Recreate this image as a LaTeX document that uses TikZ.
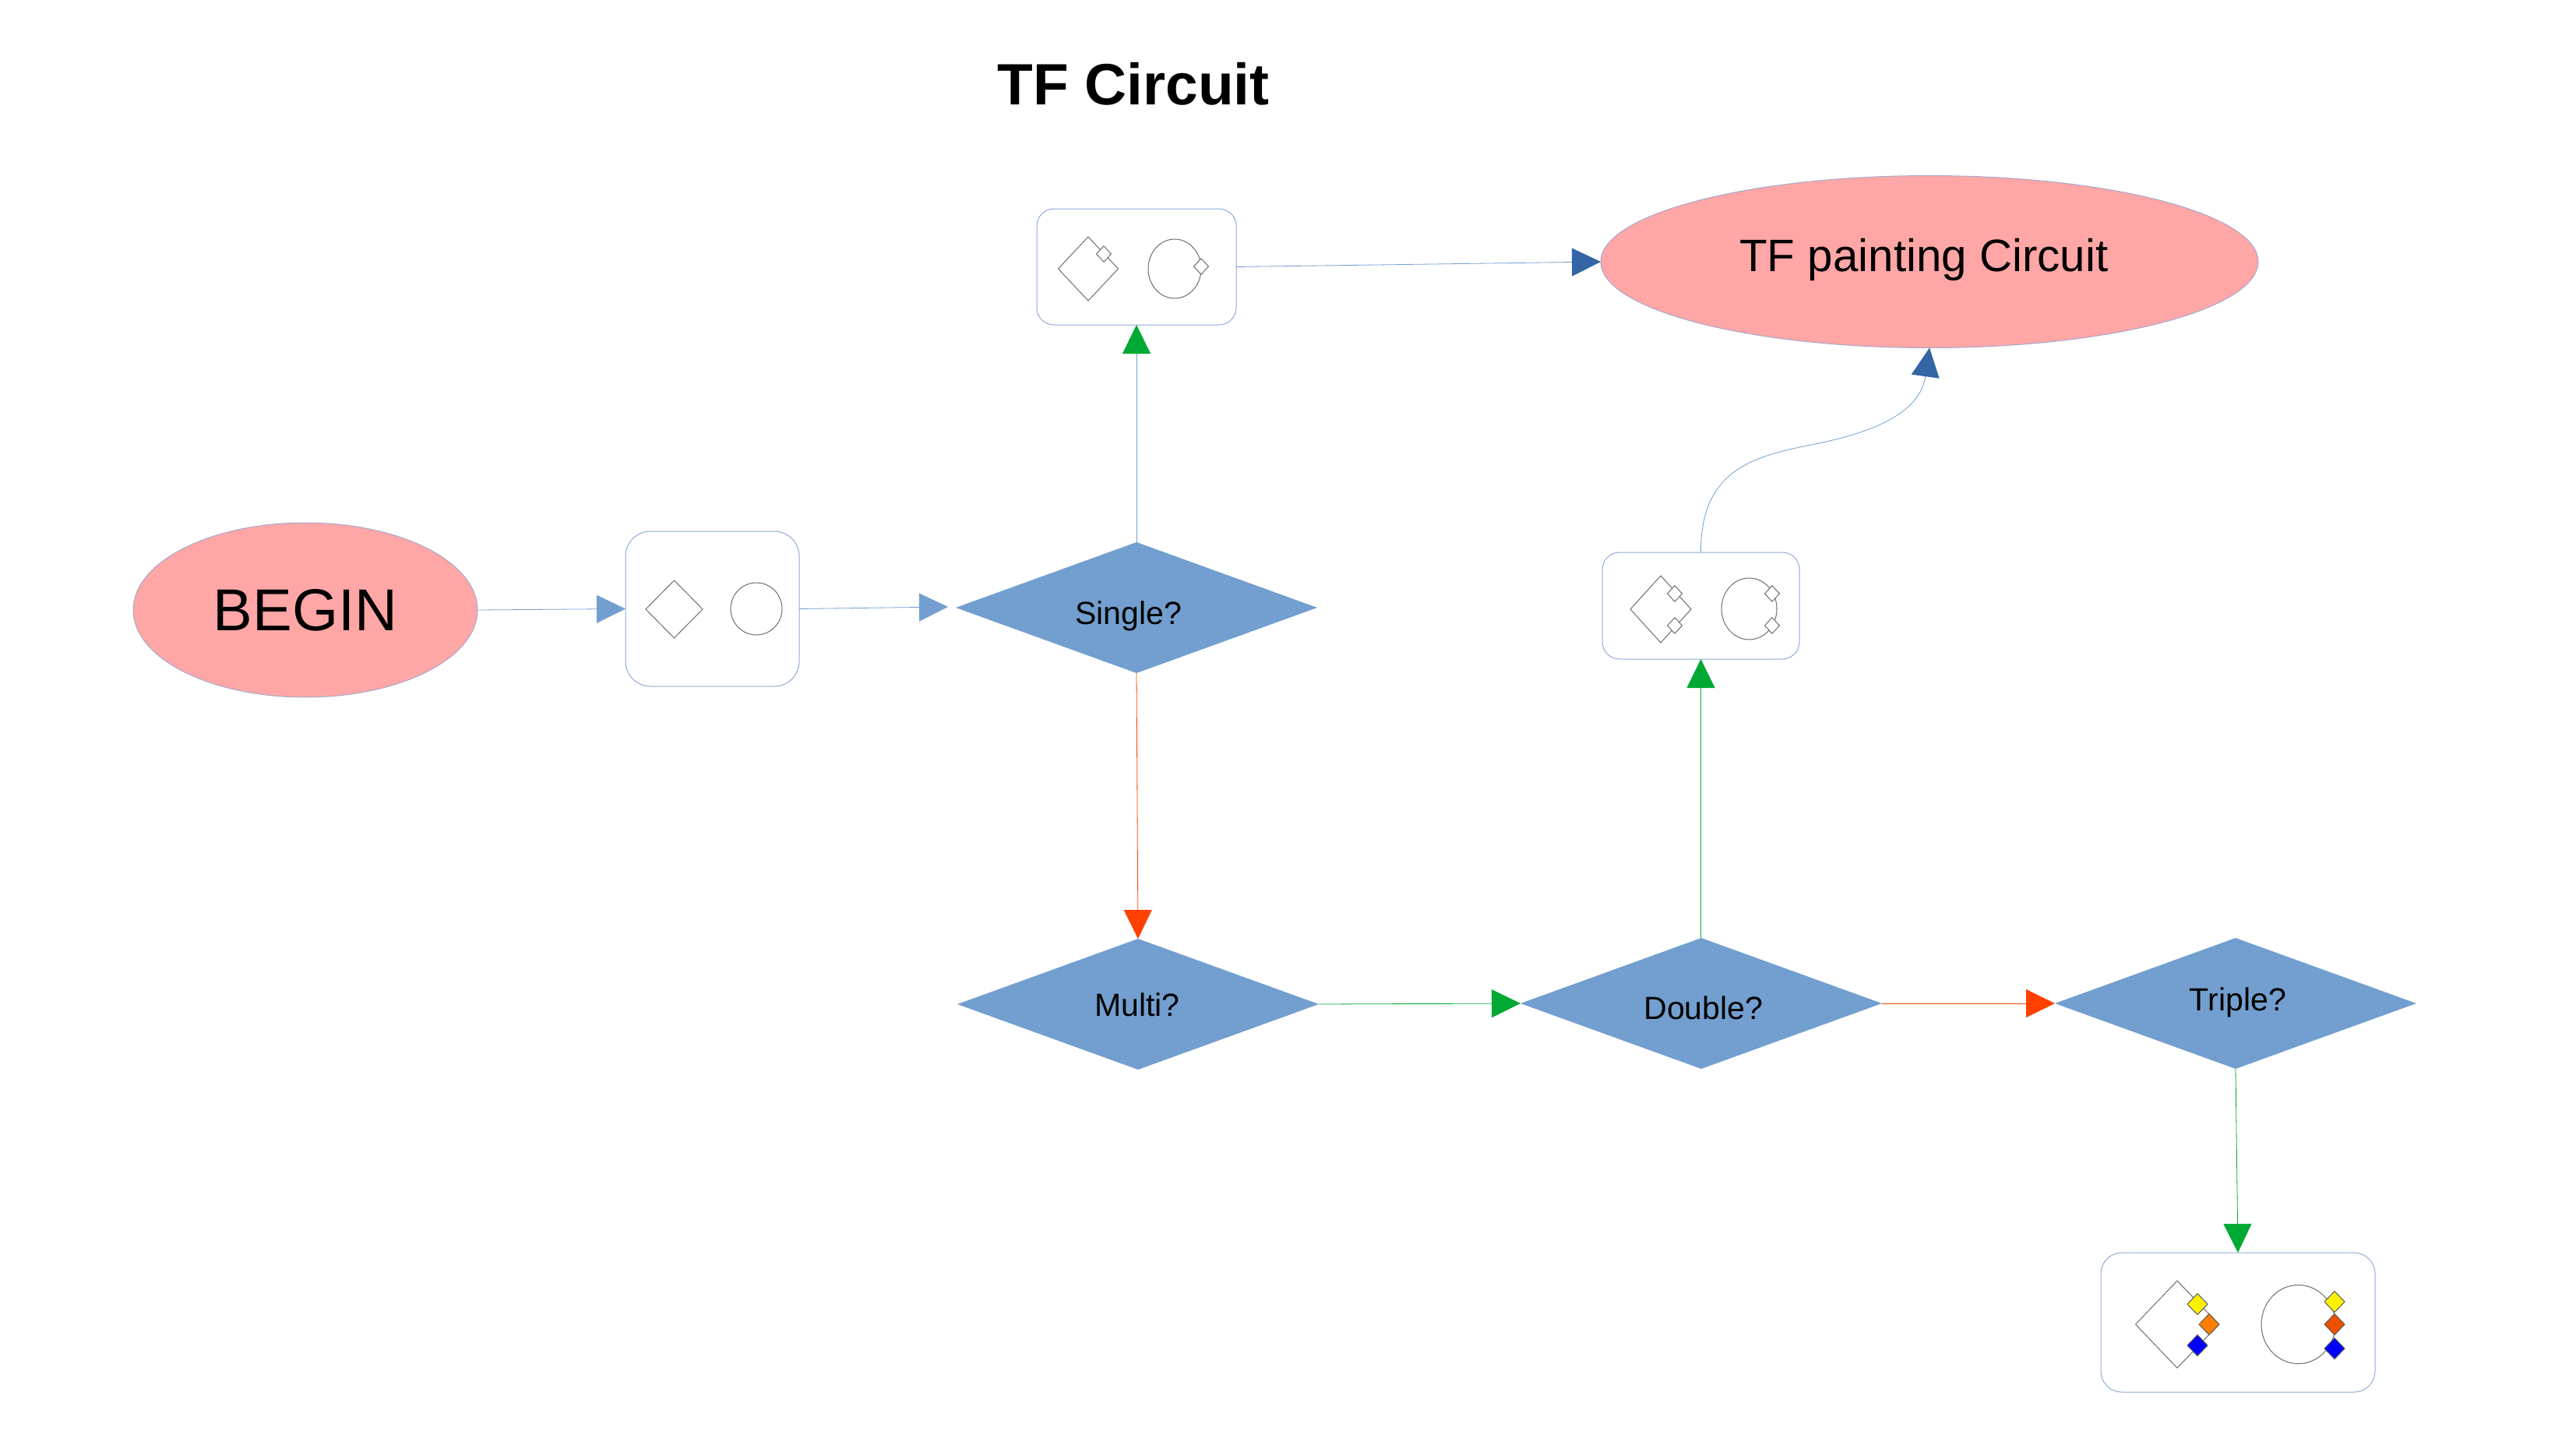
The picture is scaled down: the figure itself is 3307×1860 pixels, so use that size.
\documentclass[tikz,border=0pt]{standalone}
\usepackage{fontspec}
\setmainfont{Liberation Sans}
\usetikzlibrary{shapes.geometric,arrows.meta}

\definecolor{lightblue}{HTML}{729FCF}
\definecolor{darkblue}{HTML}{3465A4}
\definecolor{boxblue}{HTML}{8FAAD6}
\definecolor{flowgreen}{HTML}{00A933}
\definecolor{floworange}{HTML}{FF4000}
\definecolor{salmon}{HTML}{FFA6A6}
\definecolor{icongrey}{HTML}{6E6E6E}
\definecolor{portorange}{HTML}{FF8000}
\definecolor{portred}{HTML}{EE5000}

\tikzset{
    terminal/.style={ellipse, draw=boxblue!80!salmon, fill=salmon, line width=0.1mm, inner sep=0, outer sep=0},
    decision/.style={diamond, fill=lightblue, minimum width=46.4mm, minimum height=16.8mm, inner sep=0, outer sep=0},
    gatebox/.style={rectangle, draw=boxblue, fill=white, line width=0.1mm, rounded corners=2.2mm, inner sep=0, outer sep=0},
    icondia/.style={diamond, draw=icongrey, line width=0.1mm, inner sep=0, outer sep=0},
    iconcirc/.style={ellipse, draw=icongrey, line width=0.1mm, inner sep=0, outer sep=0},
    port/.style={diamond, draw=icongrey, fill=white, line width=0.1mm, minimum width=1.9mm, minimum height=2.05mm, inner sep=0, outer sep=0},
    cport/.style={diamond, draw=black!65, fill=#1, line width=0.1mm, minimum width=2.6mm, minimum height=2.7mm, inner sep=0, outer sep=0},
    flow/.style={line width=0.08mm, draw=#1, -{Triangle[length=3.7mm, width=3.6mm, color=#1]}},
    yes/.style={line width=0.08mm, draw=#1, -{Triangle[length=3.7mm, width=3.6mm, color=flowgreen]}},
    done/.style={line width=0.08mm, draw=lightblue, -{Triangle[length=3.7mm, width=3.6mm, color=darkblue]}},
}

\begin{document}
\begin{tikzpicture}[x=0.1mm, y=-0.1mm]
    \useasboundingbox (0,0) rectangle (3307,1860);

    \node (title) at (1455,108) {\fontsize{21.3}{25}\selectfont\bfseries TF Circuit};

    % ellipses
    \node[terminal, minimum width=44.2mm, minimum height=22.4mm] (begin) at (392,783) {\fontsize{21.6}{25}\selectfont BEGIN};
    \node[terminal, minimum width=84.4mm, minimum height=22.1mm] (paint) at (2477,336) {};
    \node (painttext) at (2470,333) {\fontsize{16.6}{20}\selectfont TF painting Circuit};

    % decisions
    \node[decision] (single) at (1459,780) {};
    \node[decision] (multi) at (1461,1289) {};
    \node[decision] (double) at (2184,1288) {};
    \node[decision] (triple) at (2870,1288) {};
    \node (singletext) at (1449,791) {\fontsize{11.7}{14}\selectfont Single?};
    \node (multitext) at (1460,1290) {\fontsize{11.7}{14}\selectfont Multi?};
    \node (doubletext) at (2187,1294) {\fontsize{11.7}{14}\selectfont Double?};
    \node (tripletext) at (2873,1287) {\fontsize{11.7}{14}\selectfont Triple?};

    % boxes
    \node[gatebox, rounded corners=3.2mm, minimum width=22.3mm, minimum height=19.9mm] (init) at (914.5,781.5) {};
    \node[gatebox, minimum width=25.6mm, minimum height=14.9mm] (oneq) at (1459,342.5) {};
    \node[gatebox, minimum width=25.3mm, minimum height=13.7mm] (twoq) at (2183.5,777.5) {};
    \node[gatebox, rounded corners=2.7mm, minimum width=35.2mm, minimum height=17.9mm] (threeq) at (2873,1697.5) {};

    % first box
    \node[icondia, minimum width=7.3mm, minimum height=7.4mm] (initdia) at (865.5,782) {};
    \node[iconcirc, minimum width=6.6mm, minimum height=6.7mm] (initcirc) at (971,781.5) {};

    % second box
    \node[icondia, minimum width=7.7mm, minimum height=8.2mm] (onedia) at (1397,345) {};
    \node[iconcirc, minimum width=6.8mm, minimum height=7.6mm] (onecirc) at (1508,345) {};
    \node[port] (onedport) at (1417,326) {};
    \node[port] (onecport) at (1542,342) {};

    % third box
    \node[icondia, minimum width=7.8mm, minimum height=8.6mm] (twodia) at (2132,782) {};
    \node[iconcirc, minimum width=7.1mm, minimum height=7.9mm] (twocirc) at (2245.5,781.5) {};
    \node[port] (twodporta) at (2150,762) {};
    \node[port] (twodportb) at (2150,803) {};
    \node[port] (twocporta) at (2275,762) {};
    \node[port] (twocportb) at (2275,803) {};

    % last box
    \node[icondia, minimum width=10.7mm, minimum height=11.2mm] (threedia) at (2795,1700) {};
    \node[iconcirc, minimum width=9.5mm, minimum height=10.1mm] (threecirc) at (2950.5,1700) {};
    \node[cport=yellow] (threedporta) at (2821,1674) {};
    \node[cport=portorange] (threedportb) at (2836,1700) {};
    \node[cport=blue] (threedportc) at (2821,1727) {};
    \node[cport=yellow] (threecporta) at (2997,1671) {};
    \node[cport=portred] (threecportb) at (2997,1700) {};
    \node[cport=blue] (threecportc) at (2997,1731) {};

    % connectors
    \coordinate (gap) at (1217,779);
    \coordinate (bend) at (2330,570);
    \draw[flow=lightblue] (begin.east) -- (init.west);
    \draw[flow=lightblue] (init.east) -- (gap);
    \draw[yes=lightblue] (single.north) -- (oneq.south);
    \draw[flow=floworange] (single.south) -- (multi.north);
    \draw[flow=flowgreen] (multi.east) -- (double.west);
    \draw[flow=floworange] (double.east) -- (triple.west);
    \draw[flow=flowgreen] (double.north -| twoq.south) -- (twoq.south);
    \draw[flow=flowgreen] (triple.south) -- (threeq.north);
    \draw[done] (oneq.east) -- (paint.west);
    \draw[done] (twoq.north) .. controls (2183,600) and (2255,585) .. (bend) .. controls (2405,555) and (2465,530) .. (paint.south);
\end{tikzpicture}
\end{document}
